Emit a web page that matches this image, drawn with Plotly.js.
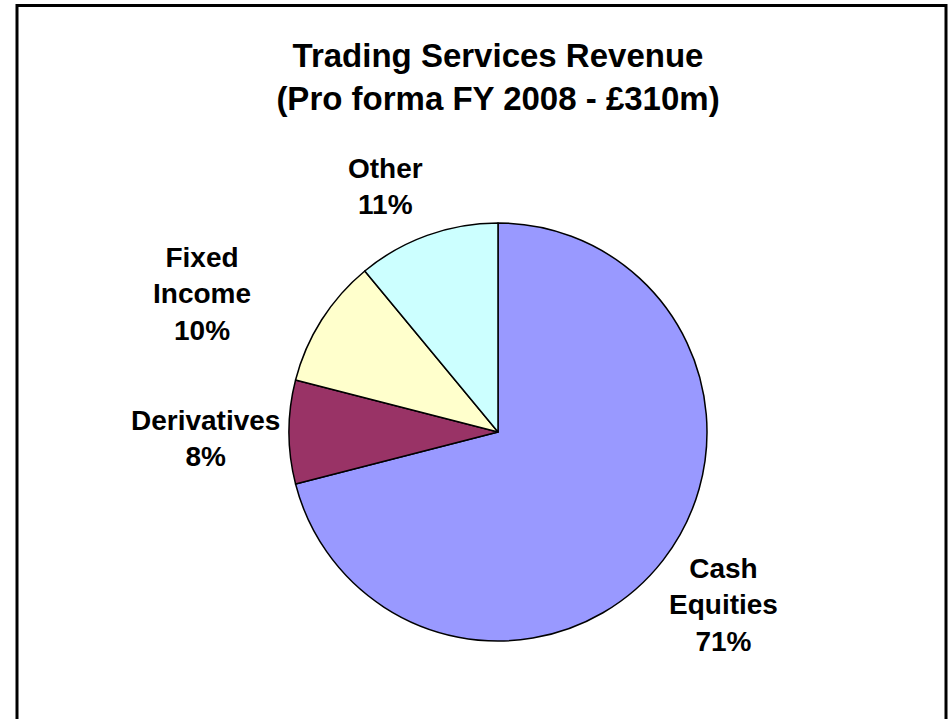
<!DOCTYPE html>
<html>
<head>
<meta charset="utf-8">
<script src="https://cdn.plot.ly/plotly-3.0.1.min.js"></script>
<style>html,body{margin:0;padding:0;background:#fff;}#chart{width:949px;height:719px;}</style>
</head>
<body>
<div id="chart"></div>
<script>
const categories = ["Cash<br>Equities", "Derivatives", "Fixed<br>Income", "Other"];
const shares = [71, 8, 10, 11];
const sliceColors = ["#9999FF", "#993366", "#FFFFCC", "#CCFFFF"];
const titleLines = ["Trading Services Revenue", "(Pro forma FY 2008 - £310m)"];

const W = 949, H = 719;
const cx = 498, cy = 432, R = 209;
// label block centres in pixels (text placement only)
const labelCentersPx = [[723, 605], [205, 439], [202, 294], [385, 186]];

const FONT = "Liberation Sans, Arial, sans-serif";

const trace = {
  type: "pie",
  labels: categories,
  values: shares,
  sort: false,
  direction: "clockwise",
  rotation: 0,
  marker: { colors: sliceColors, line: { color: "#000000", width: 1.5 } },
  textinfo: "none",
  hoverinfo: "none",
  showlegend: false,
  domain: {
    x: [(cx - R) / W, (cx + R) / W],
    y: [(H - cy - R) / H, (H - cy + R) / H]
  }
};

const annotations = categories.map((c, i) => ({
  text: "<b>" + c + "<br>" + shares[i] + "%</b>",
  xref: "paper", yref: "paper",
  x: labelCentersPx[i][0] / W,
  y: 1 - labelCentersPx[i][1] / H,
  xanchor: "center", yanchor: "middle",
  align: "center",
  showarrow: false,
  font: { family: FONT, size: 28, color: "#000000" }
}));

const layout = {
  width: W,
  height: H,
  margin: { l: 0, r: 0, t: 0, b: 0 },
  paper_bgcolor: "#ffffff",
  plot_bgcolor: "#ffffff",
  showlegend: false,
  title: {
    text: "<b>" + titleLines.join("<br>") + "</b>",
    font: { family: FONT, size: 33, color: "#000000" },
    x: cx / W,
    xanchor: "center",
    xref: "paper",
    yref: "paper",
    y: 1 - 67 / H,
    yanchor: "top"
  },
  annotations: annotations,
  shapes: [{
    type: "rect",
    xref: "paper", yref: "paper",
    x0: 17 / W, x1: 946 / W,
    y0: -0.05, y1: 1 - 5.5 / H,
    line: { color: "#000000", width: 3 },
    fillcolor: "rgba(0,0,0,0)"
  }]
};

Plotly.newPlot("chart", [trace], layout, { displayModeBar: false, staticPlot: true });
</script>
</body>
</html>
